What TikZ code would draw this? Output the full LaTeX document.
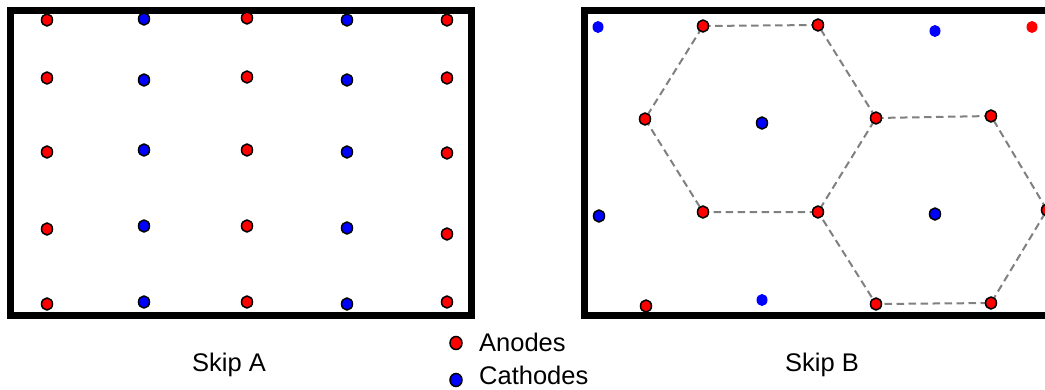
\documentclass[tikz,border=0pt]{standalone}
\usepackage{fontspec}
\setmainfont{Liberation Sans}
\usetikzlibrary{shapes.geometric}
\definecolor{anode}{RGB}{255,0,0}
\definecolor{cathode}{RGB}{0,0,255}
\definecolor{hexgray}{RGB}{128,128,128}
\tikzset{
  dotbase/.style={ellipse, inner sep=0pt, minimum width=11pt, minimum height=12pt},
  an/.style={dotbase, draw=black, line width=1.5pt, fill=anode},
  ca/.style={dotbase, draw=black, line width=1.5pt, fill=cathode},
  anplain/.style={dotbase, fill=anode},
  caplain/.style={dotbase, fill=cathode},
  frame/.style={draw=black, line width=7pt},
  hexline/.style={draw=hexgray, line width=2pt, dash pattern=on 7.5pt off 4.5pt},
  lbl/.style={font=\fontsize{25.5}{30}\selectfont, inner sep=0pt, anchor=base},
  leg/.style={font=\fontsize{25.5}{30}\selectfont, inner sep=0pt, anchor=base west},
}
\begin{document}
\begin{tikzpicture}[x=1pt,y=-1pt]
\useasboundingbox (0,0) rectangle (1045,389);
\clip (0,0) rectangle (1045,389);
\fill[white] (0,0) rectangle (1045,389);
% frames
\draw[frame] (10.5,10.5) rectangle (471,315.5);
\draw[frame] (584.5,10.5) rectangle (1070,315.5);
% Skip A grid
\node[an] (a11) at (47,20) {};
\node[ca] (a12) at (144,19) {};
\node[an] (a13) at (247,18) {};
\node[ca] (a14) at (347,20) {};
\node[an] (a15) at (447,20) {};
\node[an] (a21) at (47,78) {};
\node[ca] (a22) at (144,80) {};
\node[an] (a23) at (247,77) {};
\node[ca] (a24) at (347,80) {};
\node[an] (a25) at (447,78) {};
\node[an] (a31) at (47,152) {};
\node[ca] (a32) at (144,150) {};
\node[an] (a33) at (247,150) {};
\node[ca] (a34) at (347,152) {};
\node[an] (a35) at (447,153) {};
\node[an] (a41) at (47,229) {};
\node[ca] (a42) at (144,226) {};
\node[an] (a43) at (247,226) {};
\node[ca] (a44) at (347,228) {};
\node[an] (a45) at (447,234) {};
\node[an] (a51) at (47,304) {};
\node[ca] (a52) at (144,302) {};
\node[an] (a53) at (247,302) {};
\node[ca] (a54) at (347,304) {};
\node[an] (a55) at (447,302) {};
% Skip B hexagon vertices
\coordinate (h1) at (703,26);
\coordinate (h2) at (818,25);
\coordinate (h3) at (876,118);
\coordinate (h4) at (818,212);
\coordinate (h5) at (703,212);
\coordinate (h6) at (645,119);
\coordinate (k2) at (991,116);
\coordinate (k3) at (1047,210);
\coordinate (k4) at (991,303);
\coordinate (k5) at (876,304);
\draw[hexline] (h1) -- (h2) -- (h3) -- (h4) -- (h5) -- (h6) -- cycle;
\draw[hexline] (h3) -- (k2) -- (k3) -- (k4) -- (k5) -- (h4);
\node[an] (b1) at (h1) {};
\node[an] (b2) at (h2) {};
\node[an] (b3) at (h3) {};
\node[an] (b4) at (h4) {};
\node[an] (b5) at (h5) {};
\node[an] (b6) at (h6) {};
\node[an] (c2) at (k2) {};
\node[an] (c3) at (k3) {};
\node[an] (c4) at (k4) {};
\node[an] (c5) at (k5) {};
\node[ca] (bc1) at (762,123) {};
\node[ca] (bc2) at (935,214) {};
\node[ca] (bl) at (599,216) {};
\node[an] (bb) at (646,306) {};
\node[caplain] (p1) at (598,27) {};
\node[caplain] (p2) at (935,31) {};
\node[anplain] (p3) at (1032,27) {};
\node[caplain] (p4) at (762,300) {};
% labels
\node[lbl] (skipA) at (229,371.5) {Skip A};
\node[lbl] (skipB) at (822,371.5) {Skip B};
% legend
\node[an, minimum width=12pt, minimum height=13pt] (legA) at (456,343) {};
\node[ca, minimum width=12pt, minimum height=13pt] (legC) at (456,380) {};
\node[leg] (txtA) at (479,351.5) {Anodes};
\node[leg] (txtC) at (479,384) {Cathodes};
\end{tikzpicture}
\end{document}
